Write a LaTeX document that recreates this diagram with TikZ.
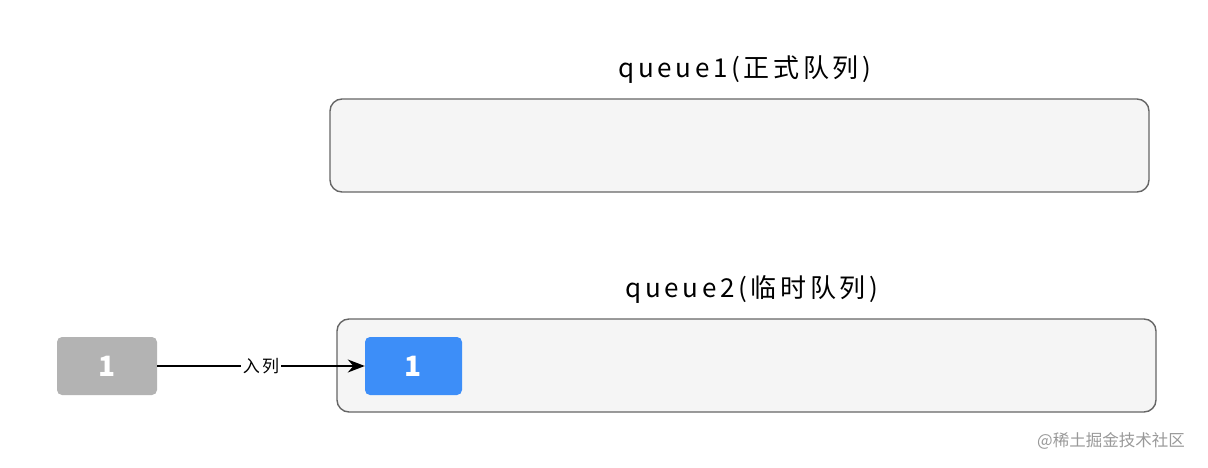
\documentclass[tikz,border=0pt]{standalone}
\usepackage{fontspec}
\usepackage{tikz}
\usetikzlibrary{arrows.meta}
\newfontfamily\cjk{Noto Sans CJK SC}
\newfontfamily\cjkwide[LetterSpace=14]{Noto Sans CJK SC}
\definecolor{boxfill}{HTML}{F5F5F5}
\definecolor{boxline}{HTML}{666666}
\definecolor{oldgray}{HTML}{B3B3B3}
\definecolor{newblue}{HTML}{3D8EF8}

\begin{document}
\begin{tikzpicture}[x=1pt,y=-1pt,
    queuebox/.style={draw=boxline,fill=boxfill,line width=1.4pt,rounded corners=12pt,
      minimum width=819pt,minimum height=93pt,inner sep=0pt},
    title/.style={font=\cjkwide\fontsize{26}{30}\selectfont},
    item/.style={rounded corners=5pt,text=white,minimum height=58pt,inner sep=0pt,
      font=\cjk\bfseries\fontsize{28}{32}\selectfont}]
      \useasboundingbox (0,0) rectangle (1208,468);

      \node[queuebox] (q1) at (739.5,145.5) {};
      \node[queuebox] (q2) at (746.5,365.5) {};
      \node[title] (t1) at (745,70) {queue1(正式队列)};
      \node[title] (t2) at (752,289) {queue2(临时队列)};

      \node[item,fill=oldgray,minimum width=100pt] (a) at (107,366) {1};
      \node[item,fill=newblue,minimum width=97pt] (b) at (413.5,366) {1};

      \draw[-{Stealth[length=17pt,width=13pt]},line width=1.3pt] (a) -- node[fill=white,inner sep=2pt,
        font=\cjkwide\fontsize{17}{20}\selectfont] {入列} (b);

      \node[font=\cjk\fontsize{16.5}{18}\selectfont,text=black!40] (wm) at (1111,441) {@稀土掘金技术社区};
    \end{tikzpicture}
\end{document}
